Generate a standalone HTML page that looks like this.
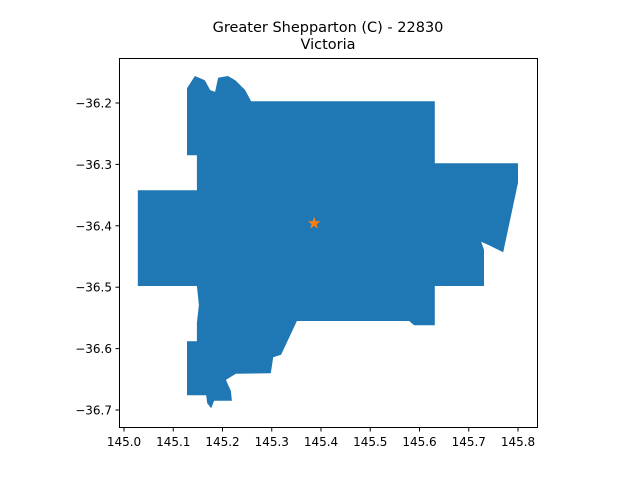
<!DOCTYPE html>
<html><head><meta charset="utf-8"><style>
body{margin:0;background:#fff;}
svg{display:block;font-family:"DejaVu Sans","Liberation Sans",sans-serif;}
</style></head><body>
<svg id="chart" width="640" height="480">
<text x="328" y="32" text-anchor="middle" font-size="14.5">Greater Shepparton (C) - 22830</text>
<text x="328" y="49" text-anchor="middle" font-size="14.5">Victoria</text>
<g id="plot"></g>
<rect x="119.5" y="58.5" width="418" height="369" fill="none" stroke="#000" stroke-width="1"/>
</svg>
<script>
const lons=[145.128,145.144,145.164,145.175,145.185,145.191,145.211,145.226,145.246,145.258,145.631,145.631,145.800,145.800,145.770,145.739,145.725,145.731,145.731,145.631,145.631,145.589,145.579,145.351,145.319,145.303,145.298,145.227,145.207,145.217,145.219,145.183,145.177,145.169,145.167,145.128,145.128,145.148,145.148,145.152,145.148,145.028,145.028,145.148,145.148,145.128];
const lats=[-36.176,-36.156,-36.163,-36.179,-36.182,-36.159,-36.156,-36.163,-36.179,-36.197,-36.197,-36.298,-36.298,-36.330,-36.443,-36.431,-36.426,-36.439,-36.498,-36.498,-36.562,-36.562,-36.555,-36.555,-36.610,-36.614,-36.640,-36.641,-36.651,-36.669,-36.685,-36.685,-36.697,-36.689,-36.676,-36.676,-36.588,-36.588,-36.558,-36.529,-36.498,-36.498,-36.342,-36.342,-36.285,-36.285];
const centroid=[145.386,-36.396];
const xTicks=[145.0,145.1,145.2,145.3,145.4,145.5,145.6,145.7,145.8];
const yTicks=[-36.2,-36.3,-36.4,-36.5,-36.6,-36.7];
function X(v){return 124+(v-145.0)*492.5;}
function Y(v){return 103+(-36.2-v)*614;}
const NS='http://www.w3.org/2000/svg';
const g=document.getElementById('plot');
function mk(t,a){const e=document.createElementNS(NS,t);for(const k in a)e.setAttribute(k,a[k]);g.appendChild(e);return e;}
const poly=mk('polygon',{points:lons.map((l,i)=>X(l).toFixed(1)+','+Y(lats[i]).toFixed(1)).join(' '),fill:'#1f77b4'});


// star
const cx=X(centroid[0]),cy=Y(centroid[1]);let pts=[];
for(let i=0;i<10;i++){const r=i%2?2.6:6.5;const a=-Math.PI/2+i*Math.PI/5;pts.push((cx+r*Math.cos(a)).toFixed(1)+','+(cy+r*Math.sin(a)).toFixed(1));}
const star=mk('polygon',{points:pts.join(' '),fill:'#ff7f0e'});


xTicks.forEach(v=>{
 const x=X(v);
 const t=mk('line',{x1:x,x2:x,y1:427.5,y2:431.5,stroke:'#000'});
 
 
 const l=mk('text',{x:x,y:446,'text-anchor':'middle','font-size':'12'});l.textContent=v.toFixed(1);
 
 
});
yTicks.forEach(v=>{
 const y=Y(v);
 const t=mk('line',{x1:115.5,x2:119.5,y1:y,y2:y,stroke:'#000'});
 
 
 const l=mk('text',{x:112,y:y+4.5,'text-anchor':'end','font-size':'12'});l.textContent='\u2212'+Math.abs(v).toFixed(1);
 
 
});
</script>
</body></html>
